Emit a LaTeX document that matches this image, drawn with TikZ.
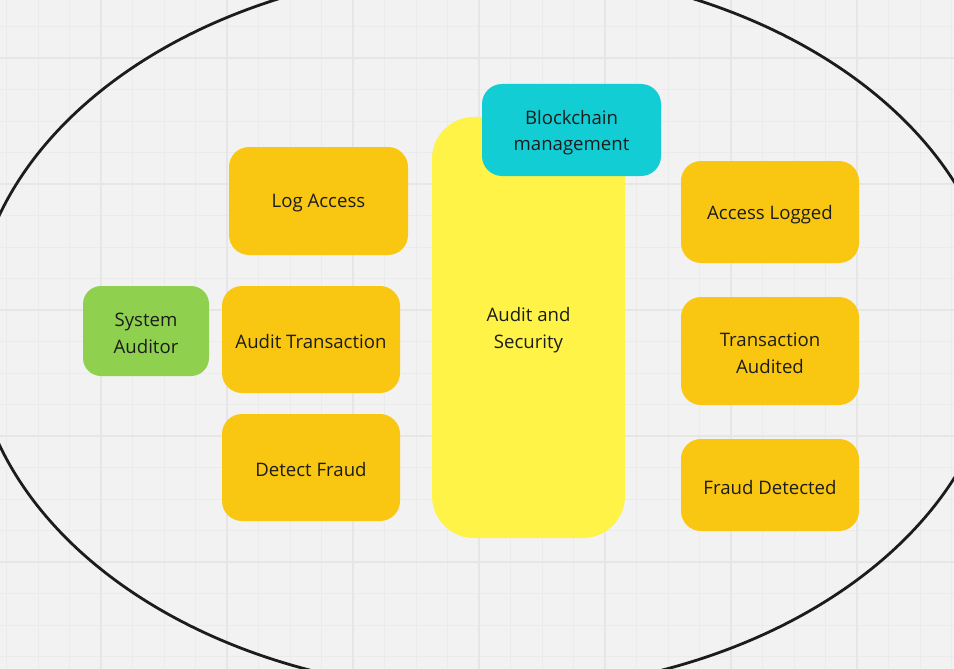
\documentclass[tikz,border=0pt]{standalone}
\usepackage{fontspec}
\setmainfont{Open Sans}
\definecolor{bgc}{HTML}{F2F2F2}
\definecolor{minorc}{HTML}{EBEBEB}
\definecolor{majorc}{HTML}{E6E6E6}
\definecolor{orangec}{HTML}{F9C712}
\definecolor{yellowc}{HTML}{FFF347}
\definecolor{tealc}{HTML}{12CDD4}
\definecolor{greenc}{HTML}{8FD14F}
\definecolor{textc}{HTML}{1C1C1C}
\tikzset{
  card/.style={rounded corners=20pt, inner sep=0pt, align=center, text=textc,
    font=\fontsize{18.6}{26.5}\selectfont},
  orangecard/.style={card, fill=orangec},
  minorline/.style={draw=minorc, line width=0.9pt},
  majorline/.style={draw=majorc, line width=1.3pt},
}
\begin{document}
\begin{tikzpicture}[x=1pt,y=-1pt]
\useasboundingbox (0,0) rectangle (954,669);
\clip (0,0) rectangle (954,669);
\fill[bgc] (0,0) rectangle (954,669);
\foreach \i in {0,...,30} {
  \draw[minorline] ({6.5+31.5*\i},0) -- ++(0,669);
}
\foreach \i in {0,...,21} {
  \draw[minorline] (0,{26.5+31.5*\i}) -- ++(954,0);
}
\foreach \i in {0,...,6} {
  \draw[majorline] ({101+126*\i},0) -- ++(0,669);
}
\foreach \i in {0,...,4} {
  \draw[majorline] (0,{58+126*\i}) -- ++(954,0);
}
% boundary ellipse
\draw[line width=2.8pt, draw=textc] (486,330) ellipse [x radius=513, y radius=362];

% central block
\node[card, fill=yellowc, rounded corners=42pt, minimum width=193pt, minimum height=421pt] (audit) at (528.5,327.5) {};
\node[card, anchor=center] (audittext) at (528.5,330) {Audit and\\Security};
\node[card, fill=tealc, minimum width=179pt, minimum height=92pt] (chain) at (571.5,130) {};
\node[card] (chaintext) at (571.5,132.5) {Blockchain\\management};

% actor
\node[card, fill=greenc, rounded corners=18pt, minimum width=126pt, minimum height=90pt] (auditor) at (146,331) {};
\node[card] (auditortext) at (146,333.5) {System\\Auditor};

% left use cases
\node[orangecard, minimum width=179pt, minimum height=108pt] (log) at (318.5,201) {};
\node[card] at (318.5,203.5) {Log Access};
\node[orangecard, minimum width=178pt, minimum height=107pt] (trans) at (311,339.5) {};
\node[card] at (311,342) {Audit Transaction};
\node[orangecard, minimum width=178pt, minimum height=107pt] (fraud) at (311,467.5) {};
\node[card] at (311,470) {Detect Fraud};

% right outcomes
\node[orangecard, minimum width=178pt, minimum height=102pt] (logged) at (770,212) {};
\node[card] at (770,214.5) {Access Logged};
\node[orangecard, minimum width=178pt, minimum height=108pt] (audited) at (770,351) {};
\node[card] at (770,353.5) {Transaction\\Audited};
\node[orangecard, minimum width=178pt, minimum height=92pt] (detected) at (770,485) {};
\node[card] at (770,487.5) {Fraud Detected};
\end{tikzpicture}
\end{document}
